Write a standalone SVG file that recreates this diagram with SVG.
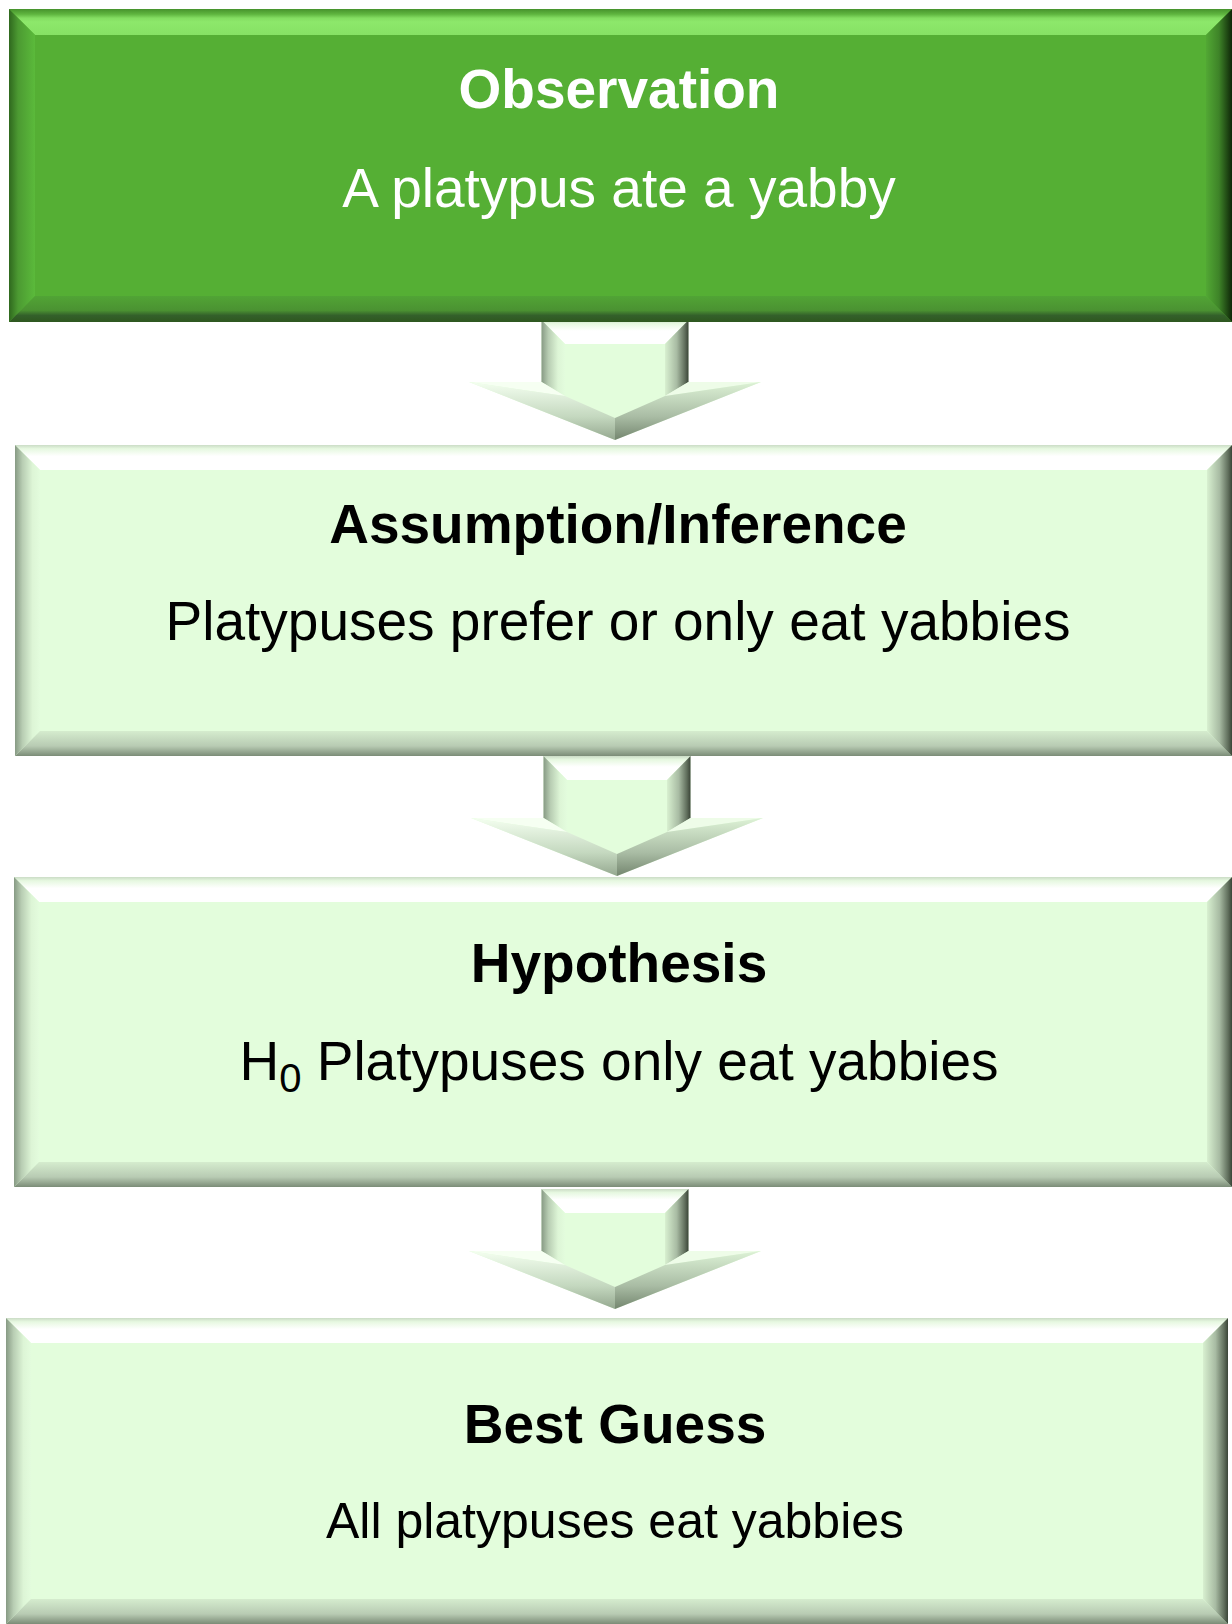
<svg xmlns="http://www.w3.org/2000/svg" xmlns:xlink="http://www.w3.org/1999/xlink" width="1232" height="1624" viewBox="0 0 1232 1624">
  <style>
    .title { font-family: "Liberation Sans", Arial, sans-serif; font-weight: bold; font-size: 55px; text-anchor: middle; }
    .body { font-family: "Liberation Sans", Arial, sans-serif; font-size: 55px; text-anchor: middle; }
    .white { fill: #ffffff; }
    .black { fill: #000000; }
    .gfill { fill: #55AF34; }
    .lfill { fill: #E3FDDC; }
    .gtop { fill: url(#gTop); }
    .gleft { fill: url(#gLeft); }
    .gbottom { fill: url(#gBottom); }
    .gright { fill: url(#gRight); }
    .ltop { fill: url(#lTop); }
    .lleft { fill: url(#lLeft); }
    .lbottom { fill: url(#lBottom); }
    .lright { fill: url(#lRight); }
  </style>
  <defs>
    <linearGradient id="gTop" x1="0" y1="0" x2="0" y2="1">
      <stop offset="0" stop-color="#46922C"/>
      <stop offset="0.2" stop-color="#5FB53F"/>
      <stop offset="0.35" stop-color="#84DD62"/>
      <stop offset="0.5" stop-color="#8DE86B"/>
      <stop offset="1" stop-color="#86E164"/>
    </linearGradient>
    <linearGradient id="gLeft" x1="0" y1="0" x2="1" y2="0">
      <stop offset="0" stop-color="#2F681E"/>
      <stop offset="0.35" stop-color="#4C9A32"/>
      <stop offset="1" stop-color="#5BBA3B"/>
    </linearGradient>
    <linearGradient id="gBottom" x1="0" y1="0" x2="0" y2="1">
      <stop offset="0" stop-color="#51A435"/>
      <stop offset="0.55" stop-color="#4B9232"/>
      <stop offset="0.75" stop-color="#33602A"/>
      <stop offset="1" stop-color="#2E571F"/>
    </linearGradient>
    <linearGradient id="gRight" x1="0" y1="0" x2="1" y2="0">
      <stop offset="0" stop-color="#52A834"/>
      <stop offset="0.5" stop-color="#3E8328"/>
      <stop offset="1" stop-color="#0E2608"/>
    </linearGradient>
    <linearGradient id="lTop" x1="0" y1="0" x2="0" y2="1">
      <stop offset="0" stop-color="#CBDCC6"/>
      <stop offset="0.15" stop-color="#E6F8E0"/>
      <stop offset="0.45" stop-color="#FFFFFF"/>
      <stop offset="1" stop-color="#FFFFFF"/>
    </linearGradient>
    <linearGradient id="lLeft" x1="0" y1="0" x2="1" y2="0">
      <stop offset="0" stop-color="#879A84"/>
      <stop offset="0.3" stop-color="#B8CDB3"/>
      <stop offset="0.7" stop-color="#DDF5D6"/>
      <stop offset="1" stop-color="#E3FCDD"/>
    </linearGradient>
    <linearGradient id="lBottom" x1="0" y1="0" x2="0" y2="1">
      <stop offset="0" stop-color="#D5ECCE"/>
      <stop offset="0.6" stop-color="#B8CBB3"/>
      <stop offset="1" stop-color="#7B8C77"/>
    </linearGradient>
    <linearGradient id="lRight" x1="0" y1="0" x2="1" y2="0">
      <stop offset="0" stop-color="#D8F0D0"/>
      <stop offset="0.5" stop-color="#A8BBA3"/>
      <stop offset="0.85" stop-color="#5F6D5B"/>
      <stop offset="1" stop-color="#3A4437"/>
    </linearGradient>
    <linearGradient id="aLowL" x1="0" y1="0" x2="0" y2="1">
      <stop offset="0" stop-color="#F4FFF0"/>
      <stop offset="0.6" stop-color="#C4D8BF"/>
      <stop offset="1" stop-color="#95A890"/>
    </linearGradient>
    <linearGradient id="aLowR" x1="0" y1="0" x2="0" y2="1">
      <stop offset="0" stop-color="#DDF2D6"/>
      <stop offset="0.6" stop-color="#A9BCA4"/>
      <stop offset="1" stop-color="#74866F"/>
    </linearGradient>
    <g id="arrowShape">
      <polygon points="-73.5,0 73.5,0 73.5,62 146,62 0,120 -146,62 -73.5,62" fill="#E3FDDC"/>
      <polygon points="-73.5,0 73.5,0 50,24 -50,24" class="ltop"/>
      <polygon points="-73.5,0 -50,24 -50,76 -73.5,62" class="lleft"/>
      <polygon points="73.5,0 73.5,62 50,76 50,24" class="lright"/>
      <polygon points="-146,62 -73.5,62 -50,76" fill="#F6FFF2"/>
      <polygon points="146,62 73.5,62 50,76" fill="#EEFCE8"/>
      <polygon points="-146,62 -50,76 0,98 0,120" fill="url(#aLowL)"/>
      <polygon points="146,62 0,120 0,98 50,76" fill="url(#aLowR)"/>
    </g>
  </defs>

  <rect x="0" y="0" width="1232" height="1624" fill="#ffffff"/>

  <g id="connectors">
    <use xlink:href="#arrowShape" href="#arrowShape" transform="translate(615,320)"/>
    <use xlink:href="#arrowShape" href="#arrowShape" transform="translate(617,756)"/>
    <use xlink:href="#arrowShape" href="#arrowShape" transform="translate(615,1189)"/>
  </g>

  <g id="node-observation">
    <rect x="9" y="9" width="1223" height="313" class="gfill"/>
    <polygon points="9,9 1232,9 1206,35 35,35" class="gtop"/>
    <polygon points="9,9 35,35 35,296 9,322" class="gleft"/>
    <polygon points="9,322 35,296 1206,296 1232,322" class="gbottom"/>
    <polygon points="1232,9 1232,322 1206,296 1206,35" class="gright"/>
    <text x="619" y="108" class="title white">Observation</text>
    <text x="619" y="207" class="body white">A platypus ate a yabby</text>
  </g>

  <g id="node-assumption">
    <rect x="15" y="445" width="1217" height="311" class="lfill"/>
    <polygon points="15,445 1232,445 1207,470 40,470" class="ltop"/>
    <polygon points="15,445 40,470 40,731 15,756" class="lleft"/>
    <polygon points="15,756 40,731 1207,731 1232,756" class="lbottom"/>
    <polygon points="1232,445 1232,756 1207,731 1207,470" class="lright"/>
    <text x="618" y="543" class="title black">Assumption/Inference</text>
    <text x="618" y="640" class="body black">Platypuses prefer or only eat yabbies</text>
  </g>

  <g id="node-hypothesis">
    <rect x="14" y="877" width="1218" height="310" class="lfill"/>
    <polygon points="14,877 1232,877 1207,902 39,902" class="ltop"/>
    <polygon points="14,877 39,902 39,1162 14,1187" class="lleft"/>
    <polygon points="14,1187 39,1162 1207,1162 1232,1187" class="lbottom"/>
    <polygon points="1232,877 1232,1187 1207,1162 1207,902" class="lright"/>
    <text x="619" y="982" class="title black">Hypothesis</text>
    <text x="619" y="1080" class="body black">H<tspan font-size="40" dy="12">0</tspan><tspan dy="-12"> Platypuses only eat yabbies</tspan></text>
  </g>

  <g id="node-bestguess">
    <rect x="6" y="1318" width="1222" height="306" class="lfill"/>
    <polygon points="6,1318 1228,1318 1203,1343 31,1343" class="ltop"/>
    <polygon points="6,1318 31,1343 31,1599 6,1624" class="lleft"/>
    <polygon points="6,1624 31,1599 1203,1599 1228,1624" class="lbottom"/>
    <polygon points="1228,1318 1228,1624 1203,1599 1203,1343" class="lright"/>
    <text x="615" y="1443" class="title black">Best Guess</text>
    <text x="615" y="1538" class="body black" font-size="50" style="font-size:50px">All platypuses eat yabbies</text>
  </g>
</svg>
